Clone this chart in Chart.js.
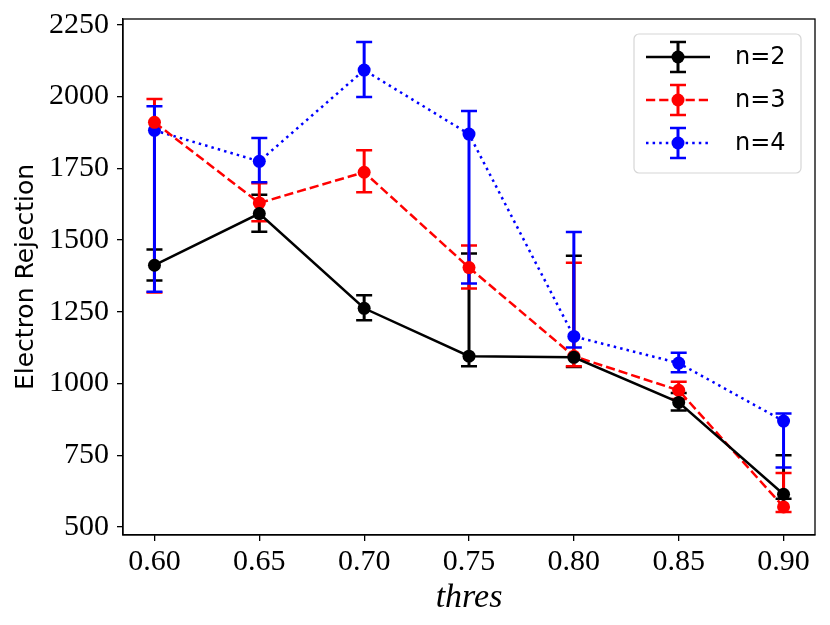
<!DOCTYPE html>
<html>
<head>
<meta charset="utf-8">
<script src="https://cdn.jsdelivr.net/npm/chart.js@4.4.1/dist/chart.umd.min.js"></script>
<style>
  html, body { margin: 0; padding: 0; background: #fff; }
  canvas { display: block; }
</style>
</head>
<body>
<canvas id="chart" width="830" height="625"></canvas>
<script>
// thresholds on the x axis
const thres = [0.60, 0.65, 0.70, 0.75, 0.80, 0.85, 0.90];
const yTicks = [500, 750, 1000, 1250, 1500, 1750, 2000, 2250];

// n=2
const n2 = [1412, 1592, 1262, 1095, 1091, 934, 614];
const n2Lo = [1359, 1529, 1220, 1060, 1057, 906, 598];
const n2Hi = [1467, 1658, 1307, 1453, 1445, 967, 750];
// n=3
const n3 = [1910, 1629, 1736, 1404, 1095, 976, 570];
const n3Lo = [1317, 1565, 1666, 1331, 1060, 946, 552];
const n3Hi = [1991, 1698, 1813, 1481, 1421, 1006, 688];
// n=4
const n4 = [1882, 1774, 2092, 1869, 1164, 1071, 869];
const n4Lo = [1320, 1701, 1998, 1348, 1125, 1039, 707];
const n4Hi = [1966, 1855, 2190, 1949, 1528, 1107, 895];

const labels = ['n=2', 'n=3', 'n=4'];
const colors = ['#000000', '#ff0000', '#0000ff'];
const dashes = [[], [9.2, 4], [2.5, 4.1]];

function pts(vals) {
  return thres.map((t, i) => ({ x: t, y: vals[i] }));
}

const errors = [[n2Lo, n2Hi], [n3Lo, n3Hi], [n4Lo, n4Hi]];

// draws the vertical error bars with caps, under all lines and markers
const errorBars = {
  id: 'errorBars',
  beforeDatasetsDraw(chart) {
    const ctx = chart.ctx;
    const yScale = chart.scales.y;
    ctx.save();
    chart.data.datasets.forEach((ds, di) => {
      const meta = chart.getDatasetMeta(di);
      const [lo, hi] = errors[di];
      ctx.strokeStyle = colors[di];
      meta.data.forEach((el, i) => {
        const x = el.x;
        const yl = yScale.getPixelForValue(lo[i]);
        const yh = yScale.getPixelForValue(hi[i]);
        ctx.lineWidth = 3;
        ctx.beginPath();
        ctx.moveTo(x, yl);
        ctx.lineTo(x, yh);
        ctx.stroke();
        ctx.lineWidth = 2.5;
        ctx.beginPath();
        ctx.moveTo(x - 8, yl); ctx.lineTo(x + 8, yl);
        ctx.moveTo(x - 8, yh); ctx.lineTo(x + 8, yh);
        ctx.stroke();
      });
    });
    ctx.restore();
  },
  afterDraw(chart) {
    const ctx = chart.ctx;
    const a = chart.chartArea;
    ctx.save();
    // full axes box
    ctx.strokeStyle = '#000';
    ctx.lineWidth = 1.3;
    ctx.strokeRect(a.left, a.top, a.right - a.left, a.bottom - a.top);

    // legend
    const bx = 634, by = 34, bw = 167, bh = 139, r = 5;
    ctx.beginPath();
    ctx.moveTo(bx + r, by);
    ctx.arcTo(bx + bw, by, bx + bw, by + bh, r);
    ctx.arcTo(bx + bw, by + bh, bx, by + bh, r);
    ctx.arcTo(bx, by + bh, bx, by, r);
    ctx.arcTo(bx, by, bx + bw, by, r);
    ctx.closePath();
    ctx.fillStyle = 'rgba(255,255,255,0.8)';
    ctx.fill();
    ctx.strokeStyle = '#d6d6d6';
    ctx.lineWidth = 1.2;
    ctx.stroke();

    const rows = [57, 100, 143];
    labels.forEach((lab, i) => {
      const y = rows[i];
      const mx = 678;
      ctx.strokeStyle = colors[i];
      ctx.fillStyle = colors[i];
      ctx.lineWidth = 3;
      ctx.setLineDash([]);
      ctx.beginPath();
      ctx.moveTo(mx, y - 15); ctx.lineTo(mx, y + 15);
      ctx.stroke();
      ctx.lineWidth = 2.5;
      ctx.beginPath();
      ctx.moveTo(mx - 8, y - 15); ctx.lineTo(mx + 8, y - 15);
      ctx.moveTo(mx - 8, y + 15); ctx.lineTo(mx + 8, y + 15);
      ctx.stroke();
      ctx.setLineDash(dashes[i]);
      ctx.beginPath();
      ctx.moveTo(646, y); ctx.lineTo(710, y);
      ctx.stroke();
      ctx.setLineDash([]);
      ctx.beginPath();
      ctx.arc(mx, y, 6.5, 0, Math.PI * 2);
      ctx.fill();
      ctx.fillStyle = '#000';
      ctx.font = '24px "DejaVu Sans"';
      ctx.textBaseline = 'middle';
      ctx.textAlign = 'left';
      ctx.fillText(lab, 735, y + 1);
    });
    ctx.restore();
  }
};

const datasets = [n2, n3, n4].map((vals, i) => ({
  label: labels[i],
  data: pts(vals),
  borderColor: colors[i],
  backgroundColor: colors[i],
  borderWidth: 2.5,
  borderDash: dashes[i],
  pointRadius: 6.5,
  pointHoverRadius: 6.5,
  pointBorderWidth: 0,
  pointBackgroundColor: colors[i],
  tension: 0,
  fill: false,
}));

new Chart(document.getElementById('chart'), {
  type: 'line',
  data: { datasets },
  options: {
    responsive: false,
    animation: false,
    devicePixelRatio: 1,
    layout: { padding: { top: 19, right: 15, left: 0, bottom: 0 } },
    plugins: {
      legend: { display: false },
      tooltip: { enabled: false },
    },
    scales: {
      x: {
        type: 'linear',
        min: 0.585,
        max: 0.915,
        afterBuildTicks: (scale) => { scale.ticks = thres.map(v => ({ value: v })); },
        afterFit: (scale) => { scale.height = 90; },
        ticks: {
          color: '#000',
          font: { family: '"Liberation Serif"', size: 30 },
          padding: 3,
          maxRotation: 0,
          autoSkip: false,
          callback: (v) => Number(v).toFixed(2),
        },
        grid: { display: true, drawOnChartArea: false, drawTicks: true, tickLength: 6, color: '#000', lineWidth: 1.3 },
        border: { display: true, color: '#000', width: 1.3 },
        title: {
          display: true,
          text: 'thres',
          color: '#000',
          font: { family: '"Liberation Serif"', size: 34, style: 'italic' },
          padding: { top: 0, bottom: 7 },
        },
      },
      y: {
        type: 'linear',
        min: 472,
        max: 2270,
        afterBuildTicks: (scale) => { scale.ticks = yTicks.map(v => ({ value: v })); },
        afterFit: (scale) => {
          scale.width = 123;
          scale.paddingTop = 0;
          scale.paddingBottom = 0;
        },
        ticks: {
          color: '#000',
          font: { family: '"Liberation Serif"', size: 30 },
          padding: 8,
          autoSkip: false,
          callback: (v) => String(v),
        },
        grid: { display: true, drawOnChartArea: false, drawTicks: true, tickLength: 6, color: '#000', lineWidth: 1.3 },
        border: { display: true, color: '#000', width: 1.3 },
        title: {
          display: true,
          text: 'Electron Rejection',
          color: '#000',
          font: { family: '"DejaVu Sans"', size: 25 },
          padding: { top: 11, bottom: 0 },
        },
      },
    },
  },
  plugins: [errorBars],
});
</script>
</body>
</html>
